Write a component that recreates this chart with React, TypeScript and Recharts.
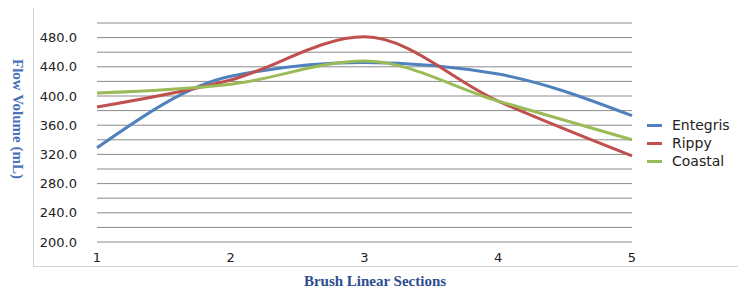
import React from "react";
import { LineChart, Line, XAxis, YAxis, CartesianGrid, Legend } from "recharts";

const sections = [1, 2, 3, 4, 5];
const seriesNames = ["Entegris", "Rippy", "Coastal"];
const entegris = [329, 427, 446, 430, 373];
const rippy = [385, 422, 481, 393, 318];
const coastal = [404, 416, 448, 393, 340];
const yTicks = [200, 220, 240, 260, 280, 300, 320, 340, 360, 380, 400, 420, 440, 460, 480, 500];
const yLabelTicks = [200, 240, 280, 320, 360, 400, 440, 480];

const data = sections.map((s, i) => ({
  section: s,
  Entegris: entegris[i],
  Rippy: rippy[i],
  Coastal: coastal[i],
}));

const tickStyle = { fontFamily: "DejaVu Sans", fontSize: 13, fill: "#222" };

const renderLegend = (props: any) => {
  const items = [...(props.payload || [])].sort(
    (a: any, b: any) => seriesNames.indexOf(a.value) - seriesNames.indexOf(b.value)
  );
  return (
    <div style={{ fontFamily: "DejaVu Sans", fontSize: 14, color: "#222" }}>
      {items.map((e: any) => (
        <div key={e.value} style={{ display: "flex", alignItems: "center", height: 18 }}>
          <span style={{ display: "inline-block", width: 15, height: 3, background: e.color, marginRight: 10 }} />
          <span>{e.value}</span>
        </div>
      ))}
    </div>
  );
};

export default function App() {
  return (
    <div style={{ position: "relative", width: 746, height: 299, marginLeft: -8, marginTop: -8, background: "#fff" }}>
      <div
        style={{
          position: "absolute",
          left: 33,
          top: 6,
          width: 713,
          height: 261,
          border: "1px solid #d4d4d4",
          boxSizing: "border-box",
        }}
      />
      <div style={{ position: "absolute", left: 0, top: 0 }}>
        <LineChart width={746} height={299} data={data} margin={{ top: 23, right: 114, left: 37, bottom: 37 }}>
          <CartesianGrid horizontal={true} vertical={false} stroke="#8a8a8a" strokeWidth={1} />
          <XAxis
            dataKey="section"
            type="number"
            domain={[1, 5]}
            ticks={sections}
            axisLine={false}
            tickLine={false}
            tickSize={0}
            tickMargin={11}
            height={20}
            tick={tickStyle}
            label={{
              content: () => (
                <text
                  x={375}
                  y={281}
                  textAnchor="middle"
                  dominantBaseline="central"
                  style={{ fontFamily: "Liberation Serif", fontWeight: "bold", fontSize: 15, fill: "#2e4d8f" }}
                >
                  Brush Linear Sections
                </text>
              ),
            }}
          />
          <YAxis
            type="number"
            domain={[200, 500]}
            ticks={yTicks}
            interval={0}
            axisLine={false}
            tickLine={false}
            tickSize={0}
            tickMargin={20}
            width={60}
            tick={tickStyle}
            tickFormatter={(v: number) => (yLabelTicks.includes(v) ? v.toFixed(1) : "")}
            label={{
              content: () => (
                <text
                  x={18}
                  y={119}
                  transform="rotate(90 18 119)"
                  textAnchor="middle"
                  dominantBaseline="central"
                  style={{ fontFamily: "Liberation Serif", fontWeight: "bold", fontSize: 15, fill: "#4a72b8" }}
                >
                  Flow Volume (mL)
                </text>
              ),
            }}
          />
          <Legend
            content={renderLegend}
            wrapperStyle={{ position: "absolute", left: 647, top: 116, width: 100, height: 0, overflow: "visible" }}
          />
          <Line type="monotone" dataKey="Entegris" stroke="#4f81bd" strokeWidth={3} dot={false} isAnimationActive={false} />
          <Line type="monotone" dataKey="Rippy" stroke="#c0504d" strokeWidth={3} dot={false} isAnimationActive={false} />
          <Line type="monotone" dataKey="Coastal" stroke="#9bbb59" strokeWidth={3} dot={false} isAnimationActive={false} />
        </LineChart>
      </div>
    </div>
  );
}
